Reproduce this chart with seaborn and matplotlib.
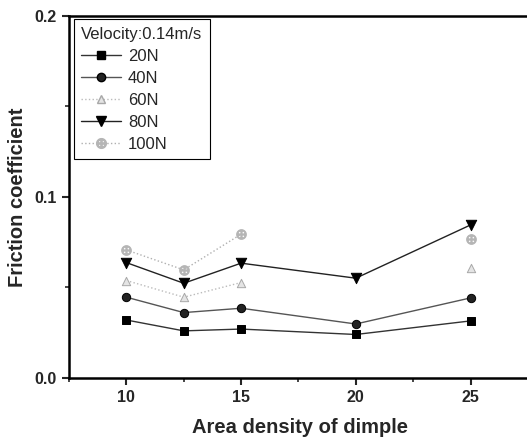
import numpy as np
import pandas as pd
import matplotlib
matplotlib.use("Agg")
import matplotlib.pyplot as plt
from matplotlib.lines import Line2D
from matplotlib.ticker import MultipleLocator
import seaborn as sns

# Area density of dimple (%)
density = [10, 12.5, 15, 20, 25]
# Friction coefficient at 0.14 m/s for each normal load (NaN = not measured)
f_20N = [0.032, 0.026, 0.027, 0.024, 0.0315]
f_40N = [0.0446, 0.0361, 0.0385, 0.0298, 0.0442]
f_60N = [0.0538, 0.0446, 0.0527, np.nan, 0.0606]
f_80N = [0.0637, 0.0523, 0.0634, 0.0551, 0.0845]
f_100N = [0.0707, 0.0597, 0.0794, np.nan, 0.0766]
loads = ["20N", "40N", "60N", "80N", "100N"]
legend_title = "Velocity:0.14m/s"

series = dict(zip(loads, [f_20N, f_40N, f_60N, f_80N, f_100N]))

styles = {
    "20N": dict(marker="s", ms=5.5, ls="-", mfc="black", mec="black", lc="#333333"),
    "40N": dict(marker="o", ms=6, ls="-", mfc="#222222", mec="black", lc="#555555"),
    "60N": dict(marker="^", ms=6, ls=":", mfc="#e4e4e4", mec="#a8a8a8", lc="#bbbbbb"),
    "80N": dict(marker="v", ms=7.5, ls="-", mfc="black", mec="black", lc="#222222"),
    "100N": dict(marker=r"$\oplus$", ms=7, ls=":", mfc="#b5b5b5", mec="#b5b5b5", lc="#b0b0b0"),
}

rows = []
for load, vals in series.items():
    run = 0
    for x, v in zip(density, vals):
        if np.isnan(v):
            run += 1
            continue
        rows.append(dict(load=load, density=x, mu=v, run=run))
df = pd.DataFrame(rows)

sns.set_style("ticks")
plt.rcParams["font.family"] = ["Liberation Sans", "DejaVu Sans"]

fig = plt.figure(figsize=(5.27, 4.41), dpi=100)
ax = fig.add_axes([0.131, 0.143, 0.875, 0.821])

for load in loads:
    st = styles[load]
    sub = df[df["load"] == load]
    sns.lineplot(data=sub, x="density", y="mu", units="run", estimator=None,
                 ax=ax, color=st["lc"], linestyle=st["ls"], linewidth=1.0,
                 legend=False, sort=False)
    sns.scatterplot(data=sub, x="density", y="mu", ax=ax, marker=st["marker"],
                    s=st["ms"] ** 2, color=st["mfc"], edgecolor=st["mec"],
                    linewidth=0.7, legend=False, zorder=3)

ax.set_xlim(7.5, 27.6)
ax.set_ylim(0.0, 0.2)
ax.xaxis.set_major_locator(MultipleLocator(5))
ax.xaxis.set_minor_locator(MultipleLocator(2.5))
ax.yaxis.set_minor_locator(MultipleLocator(0.05))
ax.set_yticks([0.0, 0.1, 0.2])
ax.set_yticklabels(["0.0", "0.1", "0.2"])

ax.tick_params(axis="both", which="major", direction="out", length=5, width=1.5,
               labelsize=11.5, pad=4)
ax.tick_params(axis="both", which="minor", direction="out", length=3, width=1.2)
for lab in ax.get_xticklabels() + ax.get_yticklabels():
    lab.set_fontweight("bold")

for side in ["left", "bottom", "top"]:
    ax.spines[side].set_linewidth(1.8)
    ax.spines[side].set_color("black")
ax.spines["right"].set_visible(False)

ax.set_xlabel("Area density of dimple", fontsize=14.5, fontweight="bold", labelpad=9)
ax.set_ylabel("Friction coefficient", fontsize=14.5, fontweight="bold", labelpad=5)

handles = []
for load in loads:
    st = styles[load]
    handles.append(Line2D([], [], color=st["lc"], linestyle=st["ls"], linewidth=1.0,
                          marker=st["marker"], markersize=st["ms"],
                          markerfacecolor=st["mfc"], markeredgecolor=st["mec"]))
leg = ax.legend(handles, loads, title=legend_title, loc="upper left",
                bbox_to_anchor=(0.01, 0.99), fontsize=12, title_fontsize=12,
                frameon=True, fancybox=False, edgecolor="black", framealpha=1,
                handlelength=2.4, handletextpad=0.4, labelspacing=0.42,
                borderpad=0.45, borderaxespad=0.0)
leg.get_frame().set_linewidth(0.8)
leg._legend_box.align = "left"

fig.savefig("out.png", dpi=100)
